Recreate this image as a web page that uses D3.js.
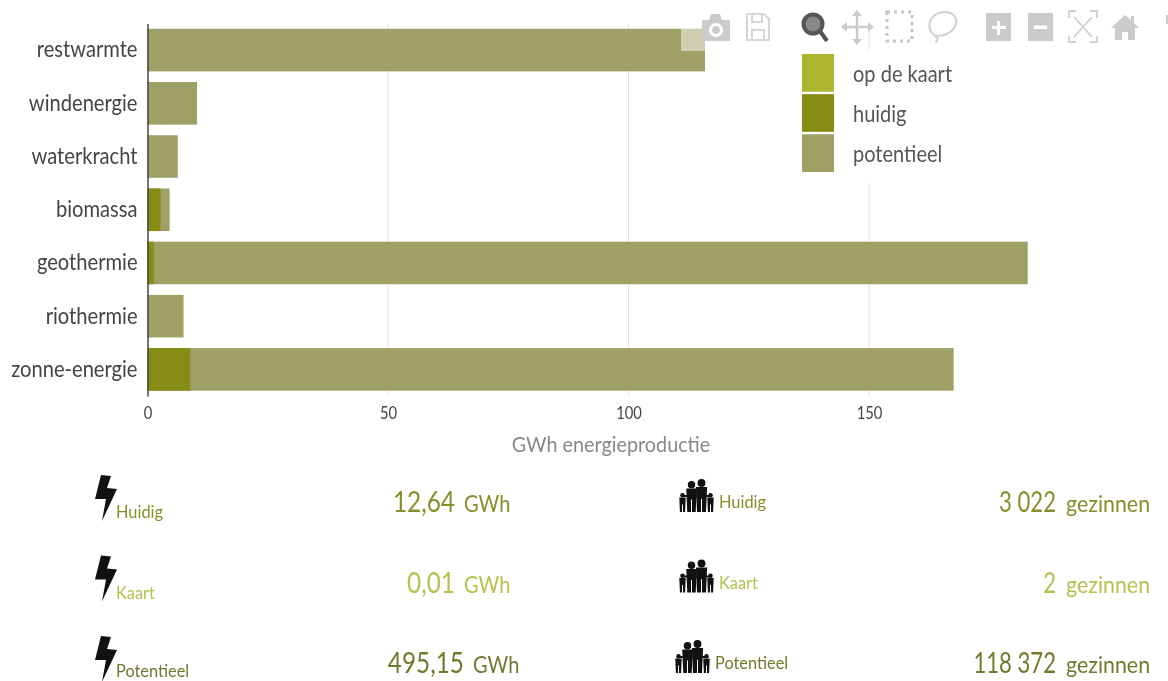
<!DOCTYPE html>
<html>
<head>
<meta charset="utf-8">
<script src="https://cdn.jsdelivr.net/npm/d3@7"></script>
<style>
html, body { margin: 0; padding: 0; background: #fff; overflow: hidden; }
svg { filter: blur(0.45px); }
text { font-family: Lato, "Noto Sans", sans-serif; }
.tick text { fill: #444; }
</style>
</head>
<body>
<div id="chart"></div>
<script>
var width = 1168,
    height = 681;

// values (GWh)
var categories = ["restwarmte", "windenergie", "waterkracht", "biomassa", "geothermie", "riothermie", "zonne-energie"];
var huidig = [0, 0, 0, 2.7, 1.3, 0, 8.9];
var opDeKaart = [0, 0, 0, 0, 0, 0, 0.01];
var potentieel = [115.9, 10.3, 6.3, 4.6, 183, 7.5, 167.6];
var xTicks = [0, 50, 100, 150];

var legendNames = ["op de kaart", "huidig", "potentieel"];
var legendColors = ["#adb52f", "#878c14", "#9ea066"];

var statNames = ["Huidig", "Kaart", "Potentieel"];
var statColors = ["#878f2a", "#b5c04f", "#6f7a2c"];
var gwhValues = ["12,64", "0,01", "495,15"];
var gezinValues = ["3 022", "2", "118 372"];

var svg = d3.select("#chart")
    .append("svg")
    .attr("width", width)
    .attr("height", height);

// the original font is narrower than anything installed, so squeeze the text
function squeeze(sel, k) {
    sel.each(function () {
        var t = d3.select(this);
        t.attr("x", (+t.attr("x") || 0) / k)
            .attr("transform", "scale(" + k + ",1)");
    });
}

var x = d3.scaleLinear().domain([0, 150]).range([147.5, 869]);
var y = d3.scaleBand().domain(categories).range([23.5, 396]).paddingInner(0.2).paddingOuter(0.1);

// gridlines
svg.append("g")
    .selectAll("line")
    .data(xTicks.slice(1))
    .enter()
    .append("line")
    .attr("x1", d => x(d))
    .attr("x2", d => x(d))
    .attr("y1", 24)
    .attr("y2", 396)
    .attr("stroke", "#e4e4e4")
    .attr("stroke-width", 1);

// potentieel goes behind, huidig on top of it
svg.append("g")
    .selectAll("rect")
    .data(categories)
    .enter()
    .append("rect")
    .attr("x", x(0))
    .attr("y", d => y(d))
    .attr("width", (d, i) => x(potentieel[i]) - x(0))
    .attr("height", y.bandwidth())
    .attr("fill", legendColors[2]);

svg.append("g")
    .selectAll("rect")
    .data(categories)
    .enter()
    .append("rect")
    .attr("x", x(0))
    .attr("y", d => y(d))
    .attr("width", (d, i) => x(huidig[i]) - x(0))
    .attr("height", y.bandwidth())
    .attr("fill", legendColors[1]);

svg.append("g")
    .selectAll("rect")
    .data(categories)
    .enter()
    .append("rect")
    .attr("x", (d, i) => x(huidig[i]))
    .attr("y", d => y(d))
    .attr("width", (d, i) => x(huidig[i] + opDeKaart[i]) - x(huidig[i]))
    .attr("height", y.bandwidth())
    .attr("fill", legendColors[0]);

// axes
var xAxis = svg.append("g")
    .attr("transform", "translate(0,396)")
    .call(d3.axisBottom(x).tickValues(xTicks).tickSize(0).tickPadding(10));
xAxis.select(".domain").remove();
xAxis.selectAll("text").style("font-size", "18px").call(squeeze, 0.82);

var yAxis = svg.append("g")
    .attr("transform", "translate(147.5,0)")
    .call(d3.axisLeft(y).tickSize(0).tickPadding(10));
yAxis.select(".domain").attr("stroke", "#444").attr("stroke-width", 1.5);
yAxis.selectAll("text").style("font-size", "23px").call(squeeze, 0.875);

svg.append("text")
    .attr("x", 611)
    .attr("y", 452)
    .attr("text-anchor", "middle")
    .attr("fill", "#888")
    .style("font-size", "22px")
    .text("GWh energieproductie")
    .call(squeeze, 0.9);

// legend sits on a white box, hides the gridline
svg.append("rect")
    .attr("x", 795)
    .attr("y", 50)
    .attr("width", 170)
    .attr("height", 133)
    .attr("fill", "#fff");

var legendY = d3.scaleBand().domain(legendNames).range([54, 172]).paddingInner(0.06);
var legend = svg.append("g")
    .selectAll("g")
    .data(legendNames)
    .enter()
    .append("g")
    .attr("transform", d => "translate(802," + legendY(d) + ")");
legend.append("rect")
    .attr("width", 32)
    .attr("height", legendY.bandwidth())
    .attr("fill", (d, i) => legendColors[i]);
legend.append("text")
    .attr("x", 51)
    .attr("y", 28)
    .attr("fill", "#555")
    .style("font-size", "22.5px")
    .text(d => d)
    .call(squeeze, 0.89);

// modebar
var modebar = svg.append("g").attr("fill", "#cbcbcb");
modebar.append("rect").attr("x", 681).attr("y", 29).attr("width", 24).attr("height", 22)
    .attr("fill", "#fff").attr("fill-opacity", 0.5);
// camera
modebar.append("path").attr("fill-rule", "evenodd")
    .attr("d", "M702 20h7l2-6h9l2 6h8v21h-28z M716 23a7 7 0 1 0 0.01 0z M716 26a4 4 0 1 1-0.01 0z");
// floppy
modebar.append("path").attr("fill", "none").attr("stroke", "#d6d6d6").attr("stroke-width", 2)
    .attr("d", "M747 14h17l5 5v21h-22z M752 14v8h10v-8 M752 40v-10h12v10");
// zoom (active)
modebar.append("circle").attr("cx", 813).attr("cy", 24).attr("r", 9.5)
    .attr("fill", "#888").attr("stroke", "#555").attr("stroke-width", 4);
modebar.append("line").attr("x1", 820).attr("y1", 31).attr("x2", 827).attr("y2", 41)
    .attr("stroke", "#555").attr("stroke-width", 4);
// pan
modebar.append("path").attr("fill", "none").attr("stroke", "#cbcbcb").attr("stroke-width", 2.5)
    .attr("d", "M857 13v29 M844 27h27");
modebar.append("path")
    .attr("d", "M857 10l5 6h-10z M857 45l5-6h-10z M841 27l6-5v10z M874 27l-6-5v10z");
// box select
modebar.append("rect").attr("x", 887).attr("y", 12).attr("width", 25).attr("height", 29)
    .attr("fill", "none").attr("stroke", "#c4c4c4").attr("stroke-width", 3).attr("stroke-dasharray", "3 4");
// lasso
modebar.append("path").attr("fill", "none").attr("stroke", "#d0d0d0").attr("stroke-width", 2)
    .attr("d", "M935 36c-10-8-6-22 8-24 12-1 16 8 11 16-3 5-10 8-19 8 4 2 3 5 0 6");
// plus, minus
modebar.append("path").attr("fill-rule", "evenodd")
    .attr("d", "M986 13h25v28h-25z M997 21v5h-5v3h5v6h3v-6h6v-3h-6v-5z");
modebar.append("path").attr("fill-rule", "evenodd")
    .attr("d", "M1028 13h25v28h-25z M1034 25.5v3.5h13v-3.5z");
// autoscale
modebar.append("path").attr("fill", "none").attr("stroke", "#cfcfcf").attr("stroke-width", 1.8)
    .attr("d", "M1069 18v-7h7 M1090 11h7v7 M1097 36v6h-7 M1076 42h-7v-6 M1074 17l18 20 M1092 17l-18 20");
// home
modebar.append("path")
    .attr("d", "M1125 15l6 5v-4h3v7l5 5h-4v12h-7v-8h-6v8h-7v-12h-4z");
modebar.append("rect").attr("x", 1166).attr("y", 15).attr("width", 2).attr("height", 9);

// stats below the chart
var rowY = d3.scalePoint().domain(statNames).range([512, 673]);
var boltPath = "M6 0L16 1L12 13L22 14L7 46L11 24L0 24Z";

function valueCell(g, value, unit, valueEnd, unitStart, color, kValue, kUnit) {
    g.append("text")
        .attr("x", valueEnd)
        .attr("text-anchor", "end")
        .attr("fill", color)
        .style("font-size", "28px")
        .text(value)
        .call(squeeze, kValue);
    g.append("text")
        .attr("x", unitStart)
        .attr("fill", color)
        .style("font-size", "23px")
        .text(unit)
        .call(squeeze, kUnit);
}

// one figure of the family icon, cx is the middle, top the top of the head, h its height
function person(g, cx, top, h) {
    var r = h * 0.12,
        w = h * 0.17,
        b = top + 2 * r,
        f = top + h;
    g.append("circle").attr("cx", cx).attr("cy", top + r).attr("r", r);
    g.append("path").attr("d",
        "M" + (cx - w) + " " + b + "H" + (cx + w) +
        "L" + (cx + w * 0.8) + " " + f + "H" + (cx + 0.5) +
        "V" + (top + h * 0.6) + "H" + (cx - 0.5) +
        "V" + f + "H" + (cx - w * 0.8) + "Z");
}

statNames.forEach(function (name, i) {
    var shift = name == "Potentieel" ? 9 : 0;
    var left = svg.append("g").attr("transform", "translate(0," + rowY(name) + ")");
    left.append("path")
        .attr("transform", "translate(95,-37)")
        .attr("d", boltPath)
        .attr("fill", "#111");
    // bottom row would run off the page at the usual offset
    left.append("text")
        .attr("x", 116)
        .attr("y", name == "Potentieel" ? 4 : 6)
        .attr("fill", statColors[i])
        .style("font-size", "18px")
        .text(name)
        .call(squeeze, 0.91);
    valueCell(left, gwhValues[i], "GWh", 455 + shift, 464 + shift, statColors[i], 0.87, 0.87);

    var iconX = name == "Potentieel" ? 674 : 678;
    var right = svg.append("g").attr("transform", "translate(0," + rowY(name) + ")");
    var fam = right.append("g")
        .attr("transform", "translate(" + iconX + ",-33)")
        .attr("fill", "#111");
    person(fam, 4.5, 14, 19);
    person(fam, 13.5, 2, 31);
    person(fam, 23.5, 0, 33);
    person(fam, 32.5, 14, 19);
    fam.append("rect").attr("x", 4).attr("y", 16).attr("width", 29).attr("height", 2);
    right.append("text")
        .attr("x", iconX + 41)
        .attr("y", -4)
        .attr("fill", statColors[i])
        .style("font-size", "18px")
        .text(name)
        .call(squeeze, 0.91);
    valueCell(right, gezinValues[i], "gezinnen", 1056, 1066, statColors[i], 0.79, 0.93);
});
</script>
</body>
</html>
